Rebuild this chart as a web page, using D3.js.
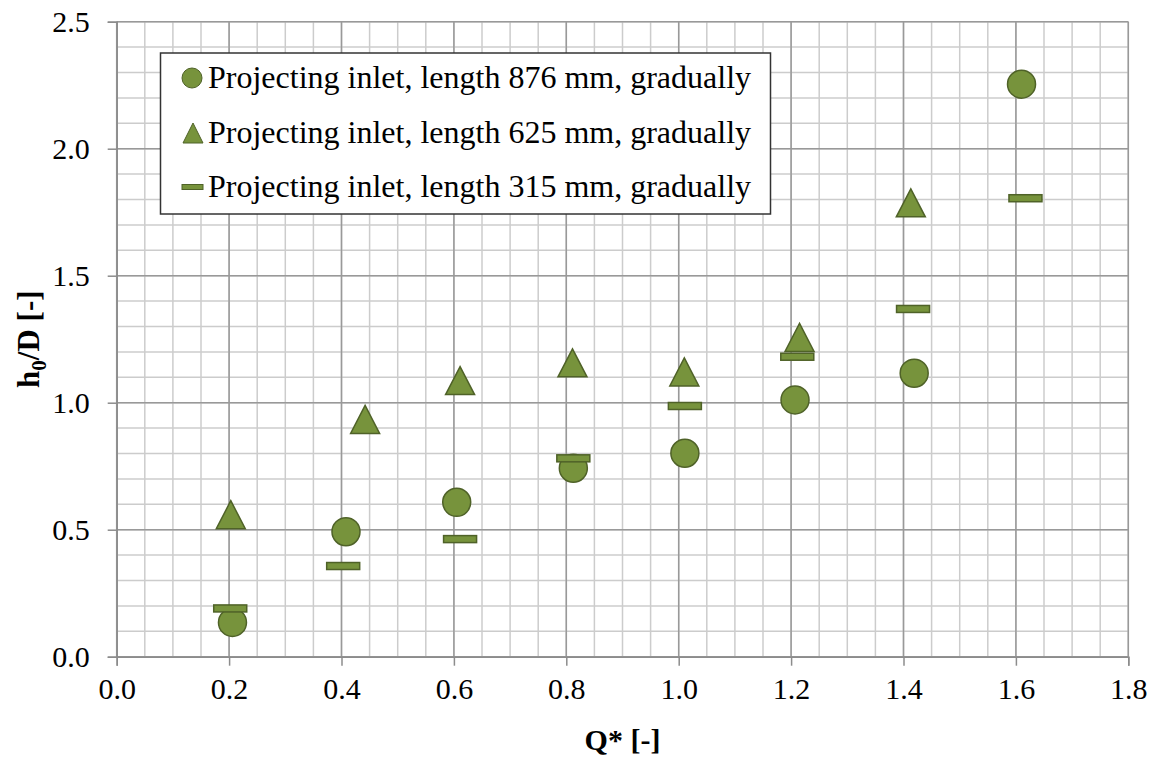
<!DOCTYPE html>
<html>
<head>
<meta charset="utf-8">
<script src="https://cdn.jsdelivr.net/npm/d3@7"></script>
<style>
  html, body { margin: 0; padding: 0; background: #fff; }
  svg { display: block; font-family: "Liberation Serif", "Times New Roman", serif; }
</style>
</head>
<body>
<svg id="chart" width="1154" height="758"></svg>
<script>
// Projecting inlet measurements: relative discharge Q* vs. headwater ratio h0/D
const series876Q = [0.206, 0.408, 0.605, 0.8125, 1.011, 1.207, 1.419, 1.610];
const series876H = [0.135, 0.492, 0.608, 0.742, 0.801, 1.011, 1.116, 2.254];

const series625Q = [0.203, 0.442, 0.611, 0.811, 1.010, 1.215, 1.413];
const series625H = [0.559, 0.934, 1.087, 1.157, 1.121, 1.257, 1.787];

const series315Q = [0.202, 0.403, 0.611, 0.8125, 1.011, 1.211, 1.417, 1.617];
const series315H = [0.190, 0.357, 0.463, 0.781, 0.987, 1.181, 1.369, 1.805];

const legendLabels = [
  "Projecting inlet, length 876 mm, gradually",
  "Projecting inlet, length 625 mm, gradually",
  "Projecting inlet, length 315 mm, gradually"
];

const xTicks = [0, 0.2, 0.4, 0.6, 0.8, 1.0, 1.2, 1.4, 1.6, 1.8];
const yTicks = [0, 0.5, 1.0, 1.5, 2.0, 2.5];

const FILL = "#77933C";
const STROKE = "#4F6228";

const svg = d3.select("#chart");

const x = d3.scaleLinear().domain([0, 1.8]).range([116.7, 1128.3]);
const y = d3.scaleLinear().domain([0, 2.5]).range([656.7, 21.7]);

// minor grid
const minorX = d3.range(0, 1.8001, 0.05);
const minorY = d3.range(0, 2.5001, 0.1);
const grid = svg.append("g");
grid.selectAll("line.mx").data(minorX).join("line")
  .attr("x1", d => x(d)).attr("x2", d => x(d))
  .attr("y1", y(0)).attr("y2", y(2.5))
  .attr("stroke", "#cccccc").attr("stroke-width", 1.5);
grid.selectAll("line.my").data(minorY).join("line")
  .attr("y1", d => y(d)).attr("y2", d => y(d))
  .attr("x1", x(0)).attr("x2", x(1.8))
  .attr("stroke", "#cccccc").attr("stroke-width", 1.5);

// major grid
grid.selectAll("line.Mx").data(xTicks).join("line")
  .attr("x1", d => x(d)).attr("x2", d => x(d))
  .attr("y1", y(0)).attr("y2", y(2.5))
  .attr("stroke", "#999999").attr("stroke-width", 1.5);
grid.selectAll("line.My").data(yTicks).join("line")
  .attr("y1", d => y(d)).attr("y2", d => y(d))
  .attr("x1", x(0)).attr("x2", x(1.8))
  .attr("stroke", "#999999").attr("stroke-width", 1.5);

// axes
const xAxis = svg.append("g")
  .attr("transform", `translate(0,${y(0)})`)
  .call(d3.axisBottom(x).tickValues(xTicks).tickFormat(d3.format(".1f")).tickSize(9).tickPadding(12));
const yAxis = svg.append("g")
  .attr("transform", `translate(${x(0)},0)`)
  .call(d3.axisLeft(y).tickValues(yTicks).tickFormat(d3.format(".1f")).tickSize(9).tickPadding(18));

[xAxis, yAxis].forEach(g => {
  g.select(".domain").attr("stroke", "#8c8c8c").attr("stroke-width", 1.5);
  g.selectAll(".tick line").attr("stroke", "#8c8c8c").attr("stroke-width", 1.5);
  g.selectAll(".tick text")
    .attr("fill", "#000")
    .style("font-family", "'Liberation Serif', serif")
    .style("font-size", "30px");
});
xAxis.selectAll(".tick text").attr("dy", "0.71em");
yAxis.selectAll(".tick text").attr("dy", "0.34em");

// axis titles
svg.append("text")
  .attr("x", (x(0) + x(1.8)) / 2).attr("y", 750)
  .attr("text-anchor", "middle")
  .style("font-weight", "bold").style("font-size", "30px")
  .text("Q* [-]");

const yTitle = svg.append("text")
  .attr("transform", `translate(39,${(y(0) + y(2.5)) / 2}) rotate(-90)`)
  .attr("text-anchor", "middle")
  .style("font-weight", "bold").style("font-size", "31px");
yTitle.append("tspan").text("h");
yTitle.append("tspan").attr("dy", 7).style("font-size", "21px").text("0");
yTitle.append("tspan").attr("dy", -7).text("/D [-]");

// marker shapes
const triPath = (w, h) => `M0,${-h / 2}L${w / 2},${h / 2}L${-w / 2},${h / 2}Z`;

const plot = svg.append("g");

const d876 = series876Q.map((q, i) => ({ q, h: series876H[i] }));
const d625 = series625Q.map((q, i) => ({ q, h: series625H[i] }));
const d315 = series315Q.map((q, i) => ({ q, h: series315H[i] }));

plot.selectAll("circle.s876").data(d876).join("circle")
  .attr("cx", d => x(d.q)).attr("cy", d => y(d.h)).attr("r", 14)
  .attr("fill", FILL).attr("stroke", STROKE).attr("stroke-width", 1.5);

plot.selectAll("path.s625").data(d625).join("path")
  .attr("transform", d => `translate(${x(d.q)},${y(d.h)})`)
  .attr("d", triPath(29, 28))
  .attr("fill", FILL).attr("stroke", STROKE).attr("stroke-width", 1.5);

plot.selectAll("rect.s315").data(d315).join("rect")
  .attr("x", d => x(d.q) - 16.5).attr("y", d => y(d.h) - 3.5)
  .attr("width", 33).attr("height", 7)
  .attr("fill", FILL).attr("stroke", STROKE).attr("stroke-width", 1.5);

// legend
const legend = svg.append("g");
legend.append("rect")
  .attr("x", 160.5).attr("y", 53).attr("width", 610).attr("height", 161)
  .attr("fill", "#fff").attr("stroke", "#333").attr("stroke-width", 1.5);

const rowY = [78, 133, 187];
legend.append("circle").attr("cx", 192).attr("cy", rowY[0]).attr("r", 10)
  .attr("fill", FILL).attr("stroke", STROKE).attr("stroke-width", 1);
legend.append("path").attr("transform", `translate(193,${rowY[1]})`)
  .attr("d", triPath(20, 20))
  .attr("fill", FILL).attr("stroke", STROKE).attr("stroke-width", 1);
legend.append("rect").attr("x", 182).attr("y", rowY[2] - 2.5).attr("width", 21).attr("height", 5)
  .attr("fill", FILL).attr("stroke", STROKE).attr("stroke-width", 1);

legend.selectAll("text.lbl").data(legendLabels).join("text")
  .attr("x", 208).attr("y", (d, i) => rowY[i] + 10)
  .style("font-size", "32px")
  .attr("fill", "#000")
  .text(d => d);
</script>
</body>
</html>
